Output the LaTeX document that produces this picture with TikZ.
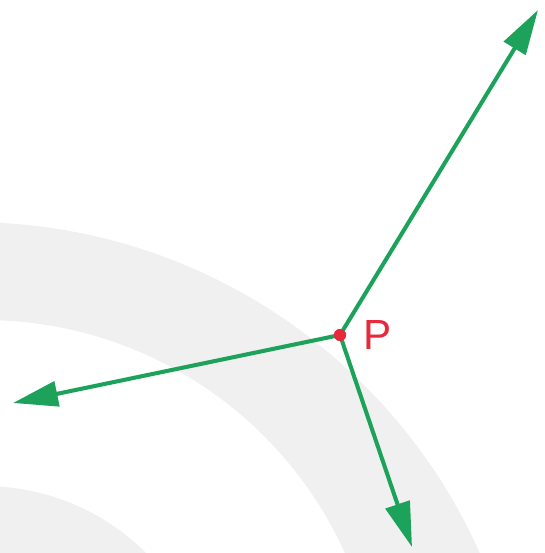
\documentclass[tikz,border=0pt]{standalone}
\usepackage{fontspec}
\setmainfont{Liberation Sans}
\usepackage{xcolor}
\usetikzlibrary{arrows.meta, positioning}
\definecolor{verde}{HTML}{1DA25B}
\definecolor{rojo}{HTML}{E62A3C}
\definecolor{fondo}{HTML}{F0F0F0}
\tikzset{
  vector/.style={-{Triangle[length=0.9cm, width=0.5cm]}, line width=2.3pt, color=verde},
  punto/.style={circle, fill=rojo, inner sep=0pt, minimum size=0.24cm},
  etiqueta/.style={text=rojo, font=\fontsize{24}{24}\selectfont, inner sep=0pt},
  banda/.style={fill=fondo, even odd rule},
}

\begin{document}
\begin{tikzpicture}[x=0.02cm, y=-0.02cm]
  \useasboundingbox (0,0) rectangle (544,553);
  % bandas de fondo
  \begin{scope}
    \clip (0,0) rectangle (544,553);
    \fill[banda] (-30,780) circle[radius=11.16cm] (-16,716) circle[radius=7.92cm];
    \fill[banda] (-16,716) circle[radius=4.6cm] (-16,716) circle[radius=2.4cm];
  \end{scope}
  \coordinate (ne) at (538,10);
  \coordinate (oe) at (13,403);
  \coordinate (su) at (412,547);
  \node[punto] (p) at (340,335) {};
  \draw[vector] (p.center) -- (ne);
  \draw[vector] (p.center) -- (oe);
  \draw[vector] (p.center) -- (su);
  \node[punto] at (p.center) {};
  \node[etiqueta, right=0.34cm of p] (lbl) {P};
\end{tikzpicture}
\end{document}
